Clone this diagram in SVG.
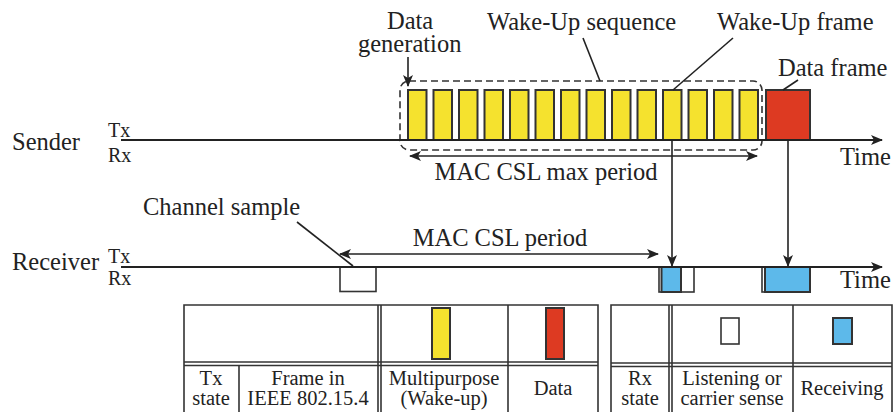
<svg xmlns="http://www.w3.org/2000/svg" width="895" height="412" viewBox="0 0 895 412">
  <style>
    text { font-family: "Liberation Serif", "Times New Roman", serif; fill: #222; }
    .lbl { font-size: 24.5px; }
    .sm { font-size: 20px; }
    .tb { font-size: 20.5px; text-anchor: middle; }
    .axis { stroke: #222; stroke-width: 2.2; fill: none; }
    .thin { stroke: #222; stroke-width: 1.6; fill: none; }
    .wake { fill: #f5e22e; stroke: #333; stroke-width: 2; }
    .data { fill: #dd3a22; stroke: #333; stroke-width: 2; }
    .rx { fill: #5db9ea; stroke: #333; stroke-width: 2; }
    .listen { fill: #fff; stroke: #333; stroke-width: 1.6; }
    .grid { stroke: #333; stroke-width: 1.6; fill: none; }
  </style>
  <defs>
    <marker id="arr" viewBox="0 0 12 10" refX="11" refY="5" markerWidth="12" markerHeight="10" markerUnits="userSpaceOnUse" orient="auto-start-reverse">
      <path d="M0,0 L12,5 L0,10 L3,5 z" fill="#222"/>
    </marker>
  </defs>

  <!-- Row labels -->
  <g id="sender-label">
    <text class="lbl" x="12" y="150">Sender</text>
    <text class="sm" x="108" y="137">Tx</text>
    <text class="sm" x="108" y="162">Rx</text>
  </g>
  <g id="receiver-label">
    <text class="lbl" x="12" y="270">Receiver</text>
    <text class="sm" x="108" y="263">Tx</text>
    <text class="sm" x="108" y="285">Rx</text>
  </g>

  <!-- Wake-up frames on the sender timeline -->
  <g id="wakeup-sequence">
    <rect class="wake" x="408" y="90" width="18.5" height="50"/>
    <rect class="wake" x="433.5" y="90" width="18.5" height="50"/>
    <rect class="wake" x="459" y="90" width="18.5" height="50"/>
    <rect class="wake" x="484.5" y="90" width="18.5" height="50"/>
    <rect class="wake" x="510" y="90" width="18.5" height="50"/>
    <rect class="wake" x="535.5" y="90" width="18.5" height="50"/>
    <rect class="wake" x="561" y="90" width="18.5" height="50"/>
    <rect class="wake" x="586.5" y="90" width="18.5" height="50"/>
    <rect class="wake" x="612" y="90" width="18.5" height="50"/>
    <rect class="wake" x="637.5" y="90" width="18.5" height="50"/>
    <rect class="wake" x="663" y="90" width="18.5" height="50"/>
    <rect class="wake" x="688.5" y="90" width="18.5" height="50"/>
    <rect class="wake" x="714" y="90" width="18.5" height="50"/>
    <rect class="wake" x="739.5" y="90" width="18.5" height="50"/>
    <rect x="400" y="81" width="362" height="69" rx="9" fill="none" stroke="#333" stroke-width="1.6" stroke-dasharray="7,4"/>
  </g>
  <g id="data-frame">
    <rect class="data" x="766" y="90" width="44" height="50"/>
  </g>

  <!-- Receiver states -->
  <g id="channel-sample">
    <rect class="listen" x="340" y="267" width="36" height="24.5"/>
  </g>
  <g id="rx-wakeup">
    <rect class="listen" x="659" y="267" width="35" height="25"/>
    <rect class="rx" x="661.5" y="267" width="19.5" height="25"/>
  </g>
  <g id="rx-data">
    <rect class="listen" x="762" y="267" width="48" height="25"/>
    <rect class="rx" x="765" y="267" width="45" height="25"/>
  </g>

  <!-- Annotations -->
  <g id="annotations">
    <text class="lbl" x="387" y="29">Data</text>
    <text class="lbl" x="358" y="52">generation</text>
    <text class="lbl" x="487" y="30">Wake-Up sequence</text>
    <text class="lbl" x="717" y="30">Wake-Up frame</text>
    <text class="lbl" x="778" y="76">Data frame</text>
    <text class="lbl" x="546" y="180" text-anchor="middle">MAC CSL max period</text>
    <text class="lbl" x="500" y="246" text-anchor="middle">MAC CSL period</text>
    <text class="lbl" x="143" y="215">Channel sample</text>
    <text class="lbl" x="840" y="165">Time</text>
    <text class="lbl" x="840" y="288">Time</text>
  </g>

  <!-- Connectors -->
  <g id="connectors">
    <line class="axis" x1="121" y1="140" x2="882" y2="140" marker-end="url(#arr)"/>
    <line class="axis" x1="121" y1="267" x2="882" y2="267" marker-end="url(#arr)"/>
    <line class="thin" x1="408" y1="57" x2="408" y2="86" marker-end="url(#arr)"/>
    <line class="thin" x1="583" y1="38" x2="600" y2="81"/>
    <line class="thin" x1="733" y1="38" x2="673" y2="90"/>
    <line class="thin" x1="798" y1="80" x2="783" y2="90"/>
    <line class="thin" x1="297" y1="222" x2="353" y2="266"/>
    <line class="thin" x1="410" y1="156" x2="757" y2="156" marker-start="url(#arr)" marker-end="url(#arr)"/>
    <line class="thin" x1="340" y1="254" x2="658" y2="254" marker-start="url(#arr)" marker-end="url(#arr)"/>
    <line class="thin" x1="672" y1="141" x2="672" y2="266" marker-end="url(#arr)"/>
    <line class="thin" x1="788" y1="141" x2="788" y2="266" marker-end="url(#arr)"/>
  </g>

  <!-- Tx state legend -->
  <g id="tx-legend">
    <path class="grid" d="M184,413 V305 H598 V413"/>
    <line class="grid" x1="184" y1="362" x2="598" y2="362"/>
    <line class="grid" x1="184" y1="365.5" x2="598" y2="365.5"/>
    <line class="grid" x1="239" y1="365.5" x2="239" y2="413"/>
    <line class="grid" x1="378" y1="305" x2="378" y2="413"/>
    <line class="grid" x1="381" y1="305" x2="381" y2="413"/>
    <line class="grid" x1="508" y1="305" x2="508" y2="413"/>
    <rect class="wake" x="432" y="308" width="18" height="51"/>
    <rect class="data" x="546" y="308" width="18" height="51"/>
    <text class="tb" x="211" y="385">Tx</text>
    <text class="tb" x="211" y="405">state</text>
    <text class="tb" x="308" y="385">Frame in</text>
    <text class="tb" x="308" y="405">IEEE 802.15.4</text>
    <text class="tb" x="444" y="385">Multipurpose</text>
    <text class="tb" x="444" y="405">(Wake-up)</text>
    <text class="tb" x="553" y="395">Data</text>
  </g>

  <!-- Rx state legend -->
  <g id="rx-legend">
    <path class="grid" d="M611,413 V305 H892 V413"/>
    <line class="grid" x1="611" y1="363" x2="892" y2="363"/>
    <line class="grid" x1="611" y1="366.5" x2="892" y2="366.5"/>
    <line class="grid" x1="669" y1="305" x2="669" y2="413"/>
    <line class="grid" x1="672" y1="305" x2="672" y2="413"/>
    <line class="grid" x1="793" y1="305" x2="793" y2="413"/>
    <rect class="listen" x="721" y="318" width="18" height="26"/>
    <rect class="rx" x="833" y="318" width="19" height="26"/>
    <text class="tb" x="640" y="385">Rx</text>
    <text class="tb" x="640" y="405">state</text>
    <text class="tb" x="732" y="385">Listening or</text>
    <text class="tb" x="732" y="405">carrier sense</text>
    <text class="tb" x="842" y="395">Receiving</text>
  </g>
</svg>
